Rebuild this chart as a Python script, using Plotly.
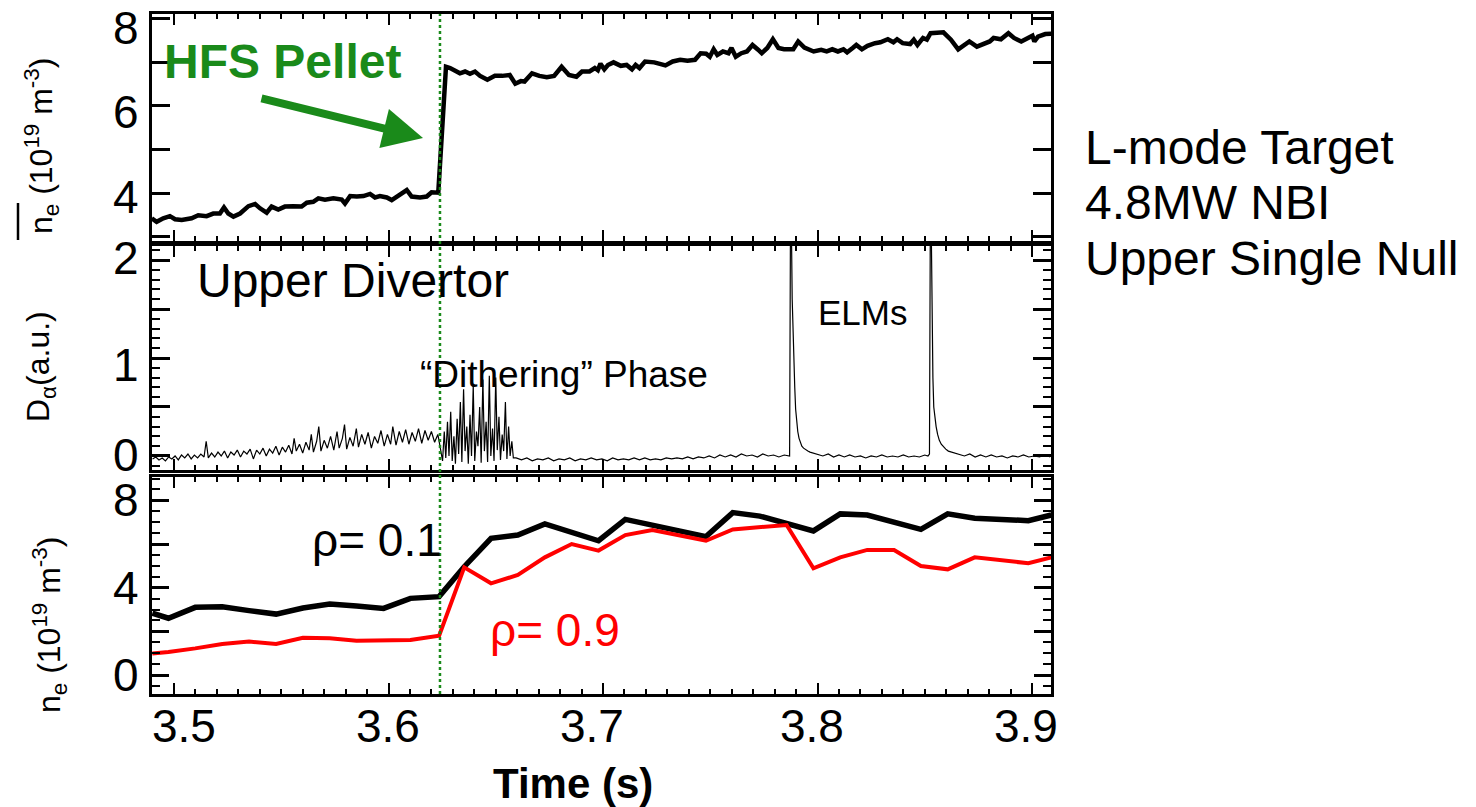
import plotly.graph_objects as go

# ---------------- data ----------------
PELLET_TIME = 3.624

# line-averaged density (top panel)
top_time = [3.4896, 3.4919, 3.4950, 3.4981, 3.5005, 3.5036, 3.5082, 3.5113, 3.5152, 3.5183,
            3.5214, 3.5233, 3.5253, 3.5277, 3.5308, 3.5347, 3.5378, 3.5401, 3.5432, 3.5455,
            3.5486, 3.5517, 3.5556, 3.5595, 3.5619, 3.5649, 3.5673, 3.5704, 3.5743, 3.5782,
            3.5797, 3.5821, 3.5852, 3.5883, 3.5914, 3.5937, 3.5960, 3.5992, 3.6015, 3.6046,
            3.6085, 3.6108, 3.6147, 3.6178, 3.6201, 3.6232, 3.6268, 3.6287, 3.6310, 3.6333,
            3.6357, 3.6380, 3.6403, 3.6427, 3.6461, 3.6496, 3.6530, 3.6565, 3.6591, 3.6617,
            3.6634, 3.6669, 3.6703, 3.6738, 3.6772, 3.6807, 3.6841, 3.6876, 3.6902, 3.6937,
            3.6962, 3.6976, 3.6988, 3.7006, 3.7023, 3.7049, 3.7083, 3.7110, 3.7135, 3.7152,
            3.7170, 3.7196, 3.7239, 3.7265, 3.7291, 3.7325, 3.7360, 3.7394, 3.7429, 3.7455,
            3.7481, 3.7498, 3.7516, 3.7533, 3.7559, 3.7585, 3.7599, 3.7619, 3.7645, 3.7671,
            3.7697, 3.7723, 3.7740, 3.7766, 3.7792, 3.7818, 3.7844, 3.7887, 3.7910, 3.7939,
            3.7982, 3.8017, 3.8043, 3.8069, 3.8095, 3.8121, 3.8138, 3.8164, 3.8181, 3.8207,
            3.8233, 3.8268, 3.8293, 3.8328, 3.8354, 3.8371, 3.8397, 3.8432, 3.8449, 3.8466,
            3.8492, 3.8510, 3.8527, 3.8587, 3.8622, 3.8656, 3.8683, 3.8708, 3.8743, 3.8778,
            3.8803, 3.8821, 3.8855, 3.8890, 3.8916, 3.8950, 3.8976, 3.9002, 3.9011, 3.9028,
            3.9062, 3.9097]
top_ne = [3.42, 3.34, 3.42, 3.47, 3.40, 3.38, 3.42, 3.49, 3.47, 3.53,
          3.53, 3.67, 3.53, 3.46, 3.53, 3.70, 3.75, 3.65, 3.55, 3.69,
          3.62, 3.69, 3.70, 3.69, 3.78, 3.80, 3.88, 3.85, 3.88, 3.85,
          3.76, 3.93, 3.92, 3.93, 3.98, 3.90, 3.93, 3.90, 3.84, 3.93,
          4.07, 3.92, 3.90, 3.92, 4.02, 4.01, 6.90, 6.87, 6.81, 6.75,
          6.79, 6.74, 6.79, 6.69, 6.60, 6.69, 6.69, 6.71, 6.51, 6.57,
          6.56, 6.75, 6.69, 6.66, 6.69, 6.90, 6.71, 6.67, 6.79, 6.79,
          6.87, 6.82, 6.97, 6.84, 6.94, 7.00, 6.92, 6.94, 6.84, 6.94,
          6.87, 7.02, 7.00, 6.97, 6.93, 7.02, 7.06, 7.04, 7.06, 7.21,
          7.20, 7.13, 7.30, 7.17, 7.25, 7.21, 7.33, 7.13, 7.21, 7.25,
          7.40, 7.29, 7.21, 7.33, 7.53, 7.33, 7.30, 7.30, 7.48, 7.34,
          7.25, 7.29, 7.25, 7.30, 7.25, 7.30, 7.23, 7.33, 7.40, 7.30,
          7.38, 7.44, 7.46, 7.53, 7.46, 7.53, 7.44, 7.42, 7.52, 7.40,
          7.56, 7.52, 7.67, 7.69, 7.52, 7.30, 7.40, 7.48, 7.36, 7.44,
          7.48, 7.56, 7.53, 7.67, 7.56, 7.48, 7.56, 7.61, 7.48, 7.59,
          7.65, 7.66]

# D-alpha, upper divertor (middle panel)
da_time = [3.4900, 3.4915, 3.4930, 3.4945, 3.4960, 3.4975, 3.4990, 3.5005, 3.5020, 3.5035,
           3.5050, 3.5065, 3.5080, 3.5095, 3.5110, 3.5125, 3.5140, 3.5150, 3.5160, 3.5175,
           3.5190, 3.5205, 3.5220, 3.5235, 3.5250, 3.5265, 3.5280, 3.5295, 3.5310, 3.5325,
           3.5340, 3.5355, 3.5370, 3.5385, 3.5400, 3.5415, 3.5430, 3.5445, 3.5460, 3.5475,
           3.5490, 3.5505, 3.5520, 3.5535, 3.5550, 3.5560, 3.5570, 3.5585, 3.5600, 3.5615,
           3.5630, 3.5640, 3.5650, 3.5665, 3.5675, 3.5685, 3.5700, 3.5715, 3.5730, 3.5745,
           3.5760, 3.5770, 3.5785, 3.5795, 3.5805, 3.5820, 3.5835, 3.5850, 3.5860, 3.5875,
           3.5890, 3.5905, 3.5920, 3.5935, 3.5950, 3.5965, 3.5980, 3.5995, 3.6010, 3.6020,
           3.6035, 3.6050, 3.6065, 3.6080, 3.6095, 3.6110, 3.6125, 3.6140, 3.6155, 3.6170,
           3.6185, 3.6200, 3.6215, 3.6230, 3.6240,
           3.6245, 3.6252, 3.6260, 3.6267, 3.6275, 3.6282, 3.6290, 3.6297, 3.6305, 3.6312,
           3.6320, 3.6327, 3.6335, 3.6342, 3.6350, 3.6357, 3.6365, 3.6372, 3.6380, 3.6387,
           3.6395, 3.6402, 3.6410, 3.6417, 3.6425, 3.6432, 3.6440, 3.6447, 3.6455, 3.6462,
           3.6470, 3.6477, 3.6485, 3.6492, 3.6500, 3.6507, 3.6515, 3.6522, 3.6530, 3.6537,
           3.6545, 3.6552, 3.6560, 3.6567, 3.6575, 3.6582,
           3.6595, 3.6620, 3.6645, 3.6670, 3.6695, 3.6720, 3.6745, 3.6770, 3.6795, 3.6820,
           3.6845, 3.6870, 3.6895, 3.6920, 3.6945, 3.6970, 3.6995, 3.7020, 3.7045, 3.7070,
           3.7095, 3.7120, 3.7145, 3.7170, 3.7195, 3.7220, 3.7245, 3.7270, 3.7295, 3.7320,
           3.7345, 3.7370, 3.7395, 3.7420, 3.7445, 3.7470, 3.7495, 3.7520, 3.7545, 3.7570,
           3.7595, 3.7620, 3.7645, 3.7670, 3.7695, 3.7720, 3.7745, 3.7770, 3.7795, 3.7820,
           3.7845, 3.7870,
           3.7874, 3.7878, 3.7882, 3.7886, 3.7890, 3.7894, 3.7898, 3.7903, 3.7908, 3.7914,
           3.7920, 3.7927, 3.7935, 3.7945, 3.7955, 3.7965, 3.7980,
           3.8000, 3.8025, 3.8050, 3.8075, 3.8100, 3.8125, 3.8150, 3.8175, 3.8200, 3.8225,
           3.8250, 3.8275, 3.8300, 3.8325, 3.8350, 3.8375, 3.8400, 3.8425, 3.8450, 3.8475,
           3.8500, 3.8515, 3.8522,
           3.8526, 3.8530, 3.8534, 3.8538, 3.8542, 3.8547, 3.8553, 3.8560, 3.8568, 3.8577,
           3.8587, 3.8598, 3.8610, 3.8625, 3.8640,
           3.8660, 3.8685, 3.8710, 3.8735, 3.8760, 3.8785, 3.8810, 3.8835, 3.8860, 3.8885,
           3.8910, 3.8935, 3.8960, 3.8985, 3.9010, 3.9035, 3.9060, 3.9085]
da_signal = [-0.03, -0.01, -0.04, -0.02, -0.05, -0.01, -0.03, 0.00, -0.04, 0.01,
             -0.02, 0.02, -0.03, 0.01, -0.02, 0.02, -0.01, 0.15, -0.02, 0.03,
             -0.01, 0.04, 0.00, 0.05, -0.02, 0.04, 0.01, 0.06, -0.01, 0.05,
             0.02, 0.07, -0.03, 0.06, 0.02, 0.08, 0.00, 0.07, 0.03, 0.10,
             0.01, 0.09, 0.04, 0.11, 0.02, 0.18, 0.05, 0.12, 0.03, 0.14,
             0.06, 0.22, 0.04, 0.15, 0.30, 0.05, 0.16, 0.08, 0.20, 0.06,
             0.25, 0.08, 0.18, 0.32, 0.07, 0.19, 0.10, 0.28, 0.09, 0.22,
             0.12, 0.24, 0.08, 0.20, 0.13, 0.26, 0.10, 0.22, 0.12, 0.30,
             0.11, 0.25, 0.14, 0.27, 0.12, 0.24, 0.15, 0.28, 0.13, 0.26,
             0.16, 0.25, 0.14, 0.22, 0.10,
             0.05, -0.05, 0.25, -0.02, 0.35, 0.00, 0.45, -0.05, 0.20, -0.08,
             0.38, 0.02, 0.55, -0.06, 0.68, 0.05, 0.30, -0.08, 0.42, 0.00,
             0.72, -0.05, 0.25, 0.10, 0.50, -0.07, 0.78, 0.05, 0.35, -0.06,
             0.82, 0.00, 0.28, -0.05, 0.80, 0.06, 0.40, -0.04, 0.22, 0.05,
             0.55, -0.03, 0.30, 0.00, 0.15, -0.02,
             -0.02, -0.04, -0.02, -0.05, -0.03, -0.04, -0.02, -0.05, -0.03, -0.04,
             -0.02, -0.05, -0.03, -0.04, -0.02, -0.04, -0.03, -0.05, -0.02, -0.04,
             -0.03, -0.04, -0.02, -0.04, -0.02, -0.04, -0.03, -0.04, -0.02, -0.03,
             -0.02, -0.03, -0.01, -0.03, -0.01, -0.02, 0.00, -0.02, 0.01, -0.01,
             0.01, -0.01, 0.02, 0.00, 0.01, -0.01, 0.02, 0.00, 0.01, -0.01,
             0.01, 0.00,
             2.40, 2.40, 1.60, 1.20, 0.95, 0.70, 0.48, 0.35, 0.25, 0.18,
             0.14, 0.10, 0.08, 0.06, 0.05, 0.04, 0.03,
             0.02, 0.00, 0.02, -0.01, 0.01, -0.01, 0.01, -0.01, 0.00, -0.02,
             0.00, -0.01, 0.01, -0.01, 0.00, -0.01, 0.01, -0.01, 0.00, -0.01,
             0.01, 0.00, 0.02,
             2.40, 2.40, 1.40, 0.80, 0.50, 0.40, 0.30, 0.22, 0.16, 0.12,
             0.09, 0.07, 0.05, 0.04, 0.03,
             0.02, 0.00, 0.02, -0.01, 0.01, -0.01, 0.01, -0.01, 0.00, -0.02,
             0.00, -0.01, 0.01, -0.01, 0.00, -0.01, 0.01, -0.01]

# Thomson density profiles (bottom panel)
core_time = [3.4899, 3.4974, 3.5099, 3.5225, 3.5350, 3.5476, 3.5601, 3.5726, 3.5851, 3.5977,
             3.6102, 3.6236, 3.6353, 3.6478, 3.6603, 3.6729, 3.6979, 3.7104, 3.7480, 3.7605,
             3.7731, 3.7981, 3.8106, 3.8232, 3.8482, 3.8607, 3.8733, 3.8983, 3.9090]
core_ne = [2.83, 2.60, 3.10, 3.13, 2.95, 2.79, 3.07, 3.25, 3.16, 3.05,
           3.51, 3.59, 4.96, 6.26, 6.41, 6.92, 6.15, 7.13, 6.34, 7.44,
           7.28, 6.60, 7.38, 7.33, 6.67, 7.38, 7.18, 7.07, 7.33]
edge_time = [3.4899, 3.4974, 3.5099, 3.5225, 3.5350, 3.5476, 3.5601, 3.5726, 3.5851, 3.5977,
             3.6102, 3.6236, 3.6353, 3.6478, 3.6603, 3.6729, 3.6854, 3.6979, 3.7104, 3.7230,
             3.7480, 3.7605, 3.7856, 3.7981, 3.8106, 3.8232, 3.8357, 3.8482, 3.8607, 3.8733,
             3.8983, 3.9090]
edge_ne = [0.99, 1.05, 1.22, 1.42, 1.53, 1.42, 1.71, 1.68, 1.57, 1.57,
           1.60, 1.80, 4.93, 4.20, 4.58, 5.39, 6.00, 5.70, 6.41, 6.64,
           6.15, 6.67, 6.87, 4.89, 5.39, 5.73, 5.73, 4.99, 4.84, 5.39,
           5.12, 5.39]

# axis ticks and their labels
x_tick_values = [3.5, 3.6, 3.7, 3.8, 3.9]
x_tick_labels = ["3.5", "3.6", "3.7", "3.8", "3.9"]
top_tick_values = [3, 4, 5, 6, 7, 8]
top_label_values = [4, 6, 8]
top_label_text = ["4", "6", "8"]
mid_tick_values = [0, 0.5, 1, 1.5, 2]
mid_label_values = [0, 1, 2]
mid_label_text = ["0", "1", "2"]
bot_tick_values = [0, 2, 4, 6, 8]
bot_label_values = [0, 4, 8]
bot_label_text = ["0", "4", "8"]
side_notes = ["L-mode Target", "4.8MW NBI", "Upper Single Null"]

# ---------------- figure ----------------
W, H = 1476, 807
OFF = 8  # page body margin
FONT = "Liberation Sans, Arial, sans-serif"
GREEN = "#1a8a1a"


def px_x(p):
    return (p - OFF) / W


def px_y(p):
    return 1 - (p - OFF) / H


X_DOM = [px_x(152), px_x(1051)]
X_RANGE = [3.48974, 3.90886]

fig = go.Figure()
fig.add_trace(go.Scatter(x=top_time, y=top_ne, mode="lines",
                         line=dict(color="black", width=4.5), xaxis="x", yaxis="y",
                         showlegend=False))
fig.add_trace(go.Scatter(x=da_time, y=da_signal, mode="lines",
                         line=dict(color="black", width=1.2), xaxis="x2", yaxis="y2",
                         showlegend=False))
fig.add_trace(go.Scatter(x=core_time, y=core_ne, mode="lines",
                         line=dict(color="black", width=5.5), xaxis="x3", yaxis="y3",
                         showlegend=False))
fig.add_trace(go.Scatter(x=edge_time, y=edge_ne, mode="lines",
                         line=dict(color="#ff0000", width=4), xaxis="x3", yaxis="y3",
                         showlegend=False))


def xax(anchor):
    return dict(domain=X_DOM, range=X_RANGE, anchor=anchor, automargin=False,
                tickmode="array", tickvals=x_tick_values, showticklabels=False,
                ticks="inside", ticklen=11, tickwidth=2, tickcolor="black",
                minor=dict(ticks="inside", ticklen=5, tickwidth=1.5, tickcolor="black",
                           dtick=0.01, tick0=3.5, showgrid=False),
                showline=True, linewidth=3, linecolor="black", mirror="ticks",
                showgrid=False, zeroline=False)


def yax(anchor, dom, rng, vals, minor_dtick, major_len):
    d = dict(domain=dom, range=rng, anchor=anchor, automargin=False,
             tickmode="array", tickvals=vals, showticklabels=False,
             ticks="inside", ticklen=major_len, tickwidth=2.5, tickcolor="black",
             showline=True, linewidth=3, linecolor="black", mirror="ticks",
             showgrid=False, zeroline=False)
    if minor_dtick:
        d["minor"] = dict(ticks="inside", ticklen=8, tickwidth=2, tickcolor="black",
                          dtick=minor_dtick, tick0=0, showgrid=False)
    return d


fig.update_layout(
    template="none",
    width=W, height=H,
    margin=dict(l=0, r=0, t=0, b=0, pad=0),
    paper_bgcolor="white", plot_bgcolor="white",
    font=dict(family=FONT, color="black"),
    xaxis=xax("y"),
    xaxis2=xax("y2"),
    xaxis3=xax("y3"),
    yaxis=yax("x", [px_y(241), px_y(14)], [2.90, 8.11], top_tick_values, None, 18),
    yaxis2=yax("x2", [px_y(470), px_y(246)], [-0.143, 2.143], mid_tick_values, 0.1, 18),
    yaxis3=yax("x3", [px_y(694), px_y(477)], [-0.87, 9.07], bot_tick_values, 0.5, 17),
)

# pellet time marker across all panels
fig.add_shape(type="line", xref="x", yref="paper", x0=PELLET_TIME, x1=PELLET_TIME,
              y0=px_y(694), y1=px_y(14), line=dict(color=GREEN, width=2.5, dash="dot"))


def note(x, y, text, size, color="black", xanchor="center", angle=0):
    return dict(xref="paper", yref="paper", x=px_x(x), y=px_y(y), text=text,
                showarrow=False, xanchor=xanchor, yanchor="middle", textangle=angle,
                font=dict(size=size, color=color, family=FONT))


ann = []
# tick labels, placed on the axes' own scales
TICKFONT = dict(size=46, color="black", family=FONT)
for v, t, dy in zip(top_label_values, top_label_text, [-4, -6, -9]):
    ann.append(dict(xref="paper", yref="y", x=px_x(141), y=v, text=t, showarrow=False,
                    xanchor="right", yanchor="middle", yshift=dy, font=TICKFONT))
for v, t, dy in zip(mid_label_values, mid_label_text, [1, -7, 2]):
    ann.append(dict(xref="paper", yref="y2", x=px_x(141), y=v, text=t, showarrow=False,
                    xanchor="right", yanchor="middle", yshift=dy, font=TICKFONT))
for v, t in zip(bot_label_values, bot_label_text):
    ann.append(dict(xref="paper", yref="y3", x=px_x(141), y=v, text=t, showarrow=False,
                    xanchor="right", yanchor="middle", font=TICKFONT))
for v, t, dx in zip(x_tick_values, x_tick_labels, [10, -1, -11, -6, -6]):
    ann.append(dict(xref="x3", yref="paper", x=v, y=px_y(726), text=t, showarrow=False,
                    xanchor="center", yanchor="middle", xshift=dx, font=TICKFONT))

# HFS pellet label and arrow
ann.append(note(282, 62, "<b>HFS Pellet</b>", 48, GREEN))
ann.append(dict(xref="paper", yref="paper", x=px_x(423), y=px_y(138), text="",
                showarrow=True, ax=-163, ay=-40, arrowcolor=GREEN, arrowwidth=8,
                arrowhead=2, arrowsize=1))
# panel texts
ann.append(note(353, 280, "Upper Divertor", 48))
ann.append(note(564, 374, "\u201cDithering\u201d Phase", 37))
ann.append(note(862, 312, "ELMs", 35))
ann.append(note(377, 540, "\u03c1= 0.1", 46))
ann.append(note(555, 630, "\u03c1= 0.9", 46, "#ff0000"))
# side notes
for i, s in enumerate(side_notes):
    ann.append(note(1083, 147 + 55.5 * i, s, 48, xanchor="left"))
# axis titles
ann.append(note(41, 146, "n<sub>e</sub> (10<sup>19</sup> m<sup>-3</sup>)", 32, angle=-90))
ann.append(note(40, 367, "D<sub>\u03b1</sub>(a.u.)", 32, angle=-90))
ann.append(note(49, 625, "n<sub>e</sub> (10<sup>19</sup> m<sup>-3</sup>)", 32, angle=-90))
ann.append(note(573, 783, "<b>Time (s)</b>", 42))
fig.update_layout(annotations=ann)

# overline above n_e of the top-panel title
fig.add_shape(type="line", xref="paper", yref="paper", x0=px_x(18), x1=px_x(18),
              y0=px_y(240), y1=px_y(203), line=dict(color="black", width=2.5))

fig.write_html("out.html")
